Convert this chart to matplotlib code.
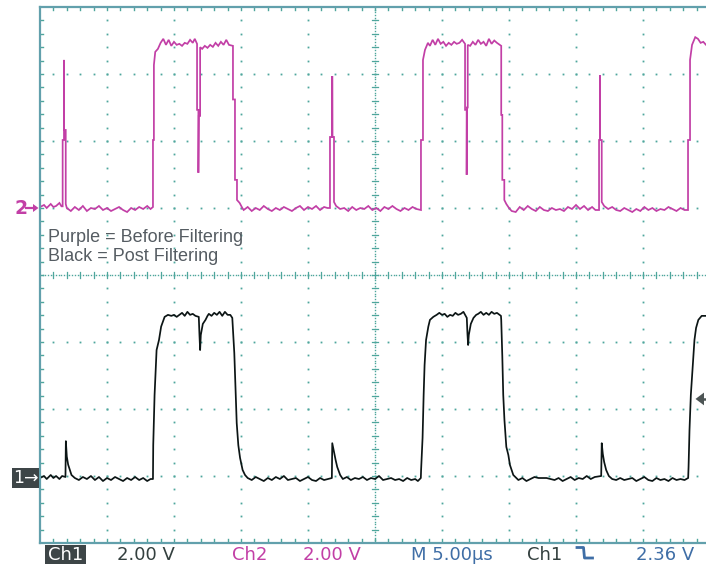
import matplotlib
matplotlib.use('Agg')
import matplotlib.pyplot as plt
import numpy as np
from matplotlib.patches import Rectangle, Polygon
from matplotlib.lines import Line2D
from matplotlib.transforms import blended_transform_factory

# ---------------- scope settings ----------------
volts_per_div = 2.0
us_per_div = 5.0
n_xdiv, n_ydiv = 10, 8
ch2_offset_div = 1.0
ch1_offset_div = -3.03
trigger_level_v = 2.36

legend_lines = ["Purple = Before Filtering", "Black = Post Filtering"]
status_texts = ["Ch1", "2.00 V", "Ch2", "2.00 V", "M 5.00\u00b5s", "Ch1", "2.36 V"]

# ---------------- waveform samples (time in us, volts) ----------------
ch2_samples = [
    (0.0, 0.03), (0.3, 0.09), (0.5, 0.0), (0.8, 0.12), (1.0, 0.03), (1.2, 0.06), (1.45, 0.15), (1.6, 0.05), (1.69, 0.05),
    (1.69, 2.03), (1.79, 2.03), (1.79, 4.42), (1.80, 2.33), (1.92, 2.33), (1.92, 0.12),
    (2.0, 0.0), (2.3, -0.09), (2.6, 0.03), (2.9, -0.06), (3.2, 0.06), (3.5, -0.09), (3.8, 0.0), (4.1, -0.03),
    (4.4, 0.06), (4.7, -0.06), (5.0, 0.0), (5.3, -0.09), (5.6, -0.03), (5.9, 0.03), (6.2, -0.06), (6.5, -0.12),
    (6.8, 0.0), (7.1, -0.06), (7.4, 0.03), (7.7, -0.03), (8.0, 0.06), (8.25, -0.03), (8.43, 0.03),
    (8.43, 2.03), (8.5, 2.03), (8.5, 4.27), (8.6, 4.66), (8.8, 4.75), (9.0, 4.93),
    (9.2, 5.05), (9.4, 4.87), (9.6, 5.02), (9.8, 4.84), (10.0, 4.96), (10.2, 4.87), (10.4, 4.9), (10.6, 4.84),
    (10.8, 4.93), (11.0, 4.9), (11.2, 5.02), (11.4, 4.93), (11.55, 5.05), (11.72, 4.9),
    (11.72, 2.93), (11.82, 2.93), (11.82, 1.05), (11.85, 2.75), (11.95, 2.75), (11.95, 4.8),
    (12.1, 4.75), (12.3, 4.84), (12.5, 4.78), (12.7, 4.87), (12.9, 4.81), (13.1, 4.93), (13.3, 4.84), (13.5, 4.96),
    (13.7, 4.87), (13.9, 5.02), (14.1, 4.87), (14.4, 4.84),
    (14.4, 3.24), (14.55, 3.24), (14.55, 0.84), (14.7, 0.84), (14.7, 0.24), (14.9, 0.15), (15.1, 0.0),
    (15.2, -0.06), (15.5, 0.03), (15.8, -0.09), (16.1, 0.0), (16.4, -0.06), (16.7, 0.06), (17.0, -0.03), (17.3, -0.09),
    (17.6, 0.0), (17.9, -0.06), (18.2, 0.03), (18.5, -0.03), (18.8, -0.09), (19.1, 0.0), (19.4, 0.06), (19.7, -0.06),
    (20.0, 0.03), (20.3, -0.03), (20.6, 0.06), (20.9, -0.06), (21.2, 0.03), (21.45, 0.0), (21.64, 0.0),
    (21.64, 2.12), (21.81, 2.12), (21.81, 3.94), (21.82, 2.12), (21.94, 2.12), (21.94, 0.18),
    (22.1, 0.06), (22.4, -0.03), (22.7, 0.0), (23.0, -0.09), (23.3, 0.03), (23.6, -0.06), (23.9, 0.0), (24.2, -0.03),
    (24.5, 0.06), (24.8, -0.06), (25.1, 0.0), (25.4, -0.09), (25.7, 0.03), (26.0, -0.03), (26.3, 0.06), (26.6, -0.03),
    (26.9, -0.09), (27.2, 0.0), (27.5, -0.06), (27.8, 0.03), (28.1, -0.03), (28.43, -0.06),
    (28.43, 2.03), (28.58, 2.03), (28.58, 4.42), (28.73, 4.72), (28.95, 4.93),
    (29.1, 4.84), (29.3, 5.02), (29.5, 4.87), (29.7, 5.05), (29.9, 4.9), (30.1, 4.96), (30.3, 4.84), (30.5, 4.93),
    (30.7, 4.87), (30.9, 4.96), (31.1, 4.9), (31.3, 4.93), (31.5, 5.02), (31.72, 4.9),
    (31.72, 2.93), (31.84, 2.93), (31.84, 0.99), (31.86, 3.0), (31.92, 3.0), (31.92, 4.87),
    (32.1, 4.84), (32.3, 4.96), (32.5, 4.87), (32.7, 5.02), (32.9, 4.9), (33.1, 4.96), (33.3, 4.84), (33.5, 5.05),
    (33.7, 4.9), (33.9, 5.0), (34.1, 4.93), (34.42, 4.84),
    (34.42, 2.78), (34.5, 2.78), (34.5, 0.84), (34.65, 0.84), (34.65, 0.24), (34.8, 0.12), (35.0, 0.0),
    (35.2, -0.09), (35.5, -0.12), (35.8, 0.03), (36.1, -0.06), (36.4, 0.06), (36.7, -0.03), (37.0, -0.09), (37.3, 0.03),
    (37.6, -0.06), (37.9, -0.09), (38.2, 0.0), (38.5, -0.06), (38.8, -0.03), (39.1, -0.09), (39.4, 0.03), (39.7, -0.03),
    (40.0, 0.09), (40.3, -0.03), (40.6, 0.06), (40.9, -0.06), (41.2, 0.03), (41.45, -0.06), (41.72, -0.06),
    (41.72, 2.03), (41.79, 2.03), (41.79, 3.97), (41.8, 2.03), (41.92, 2.03), (41.92, 0.18),
    (42.1, 0.06), (42.4, -0.03), (42.7, 0.03), (43.0, -0.06), (43.3, -0.09), (43.6, 0.0), (43.9, -0.06), (44.2, -0.12),
    (44.5, -0.03), (44.8, -0.09), (45.1, 0.03), (45.4, -0.06), (45.7, 0.0), (46.0, -0.09), (46.3, -0.03), (46.6, -0.06),
    (46.9, 0.03), (47.2, -0.03), (47.5, -0.09), (47.8, 0.0), (48.1, -0.06), (48.36, -0.06),
    (48.36, 2.03), (48.51, 2.03), (48.51, 4.42), (48.66, 4.87), (48.9, 5.1), (49.1, 5.05), (49.3, 4.93), (49.5, 4.96),
    (49.7, 4.87), (50.0, 4.9),
]

ch1_samples = [
    (0.0, 0.0), (0.3, 0.06), (0.5, -0.03), (0.8, 0.09), (1.0, 0.0), (1.2, 0.06), (1.45, -0.03), (1.65, 0.06), (1.9, 0.03),
    (1.93, 1.1), (2.0, 0.64), (2.1, 0.4), (2.35, 0.09), (2.6, 0.0),
    (2.9, -0.06), (3.2, 0.03), (3.5, -0.03), (3.8, 0.06), (4.1, -0.06), (4.4, 0.03), (4.7, -0.09), (5.0, 0.0),
    (5.3, -0.06), (5.6, 0.03), (5.9, -0.03), (6.2, -0.09), (6.5, 0.0), (6.8, -0.06), (7.1, 0.03), (7.4, -0.06),
    (7.7, 0.0), (8.0, -0.09), (8.25, -0.03), (8.43, -0.03),
    (8.45, 0.98), (8.55, 2.48), (8.7, 3.82), (8.88, 4.12), (9.04, 4.52), (9.3, 4.81), (9.55, 4.87),
    (9.8, 4.84), (10.0, 4.87), (10.2, 4.81), (10.4, 4.87), (10.6, 4.93), (10.8, 4.84), (11.0, 4.96), (11.2, 4.87),
    (11.4, 4.9), (11.6, 4.84), (11.85, 4.81),
    (11.9, 4.27), (11.95, 3.82), (12.0, 4.27), (12.15, 4.6), (12.35, 4.72), (12.5, 4.84),
    (12.6, 4.9), (12.8, 4.84), (13.0, 4.93), (13.2, 4.87), (13.4, 4.96), (13.6, 4.84), (13.8, 4.96), (14.0, 4.87),
    (14.2, 4.87), (14.35, 4.78),
    (14.4, 4.42), (14.5, 3.73), (14.6, 2.54), (14.68, 1.64), (14.8, 0.98), (14.93, 0.6), (15.12, 0.24), (15.3, 0.09), (15.5, 0.0),
    (15.8, -0.06), (16.1, 0.03), (16.4, -0.03), (16.7, -0.09), (17.0, 0.0), (17.3, -0.06), (17.6, 0.03), (17.9, -0.03),
    (18.2, 0.06), (18.5, -0.06), (18.8, -0.03), (19.1, 0.0), (19.4, -0.09), (19.7, -0.03), (20.0, 0.03), (20.3, -0.06),
    (20.6, -0.09), (20.9, 0.0), (21.2, -0.06), (21.5, -0.03), (21.78, 0.0),
    (21.81, 1.04), (21.94, 0.78), (22.06, 0.54), (22.18, 0.33), (22.4, 0.09), (22.6, -0.03),
    (22.9, 0.03), (23.2, -0.06), (23.5, 0.0), (23.8, -0.03), (24.1, 0.03), (24.4, -0.06), (24.7, 0.0), (25.0, -0.03),
    (25.3, 0.06), (25.6, -0.06), (25.9, -0.03), (26.2, 0.0), (26.5, -0.06), (26.8, -0.03), (27.1, -0.09), (27.4, 0.0),
    (27.7, -0.06), (28.0, -0.03), (28.2, -0.09), (28.42, 0.0),
    (28.44, 0.24), (28.55, 1.2), (28.63, 2.48), (28.7, 3.37), (28.81, 4.12), (28.98, 4.52), (29.1, 4.72), (29.35, 4.81),
    (29.6, 4.87), (29.8, 4.93), (30.0, 4.87), (30.2, 4.9), (30.4, 4.81), (30.6, 4.87), (30.8, 4.84), (31.0, 4.93),
    (31.2, 4.87), (31.4, 4.9), (31.6, 4.96), (31.85, 4.78),
    (31.9, 4.3), (31.95, 3.97), (32.0, 4.27), (32.15, 4.6), (32.35, 4.78), (32.55, 4.87),
    (32.7, 4.9), (32.9, 4.96), (33.1, 4.87), (33.3, 4.93), (33.5, 4.87), (33.7, 4.96), (33.9, 4.9), (34.1, 4.93),
    (34.3, 4.87), (34.4, 4.84),
    (34.42, 4.72), (34.5, 3.64), (34.57, 2.48), (34.66, 1.73), (34.8, 0.93), (34.95, 0.69), (35.07, 0.39), (35.32, 0.09), (35.7, -0.06),
    (36.0, 0.0), (36.3, -0.09), (36.6, -0.03), (36.9, 0.03), (37.2, 0.0), (37.5, 0.0), (37.8, 0.0), (38.1, -0.03),
    (38.4, -0.06), (38.7, 0.0), (39.0, -0.09), (39.3, -0.03), (39.6, 0.03), (39.9, -0.06), (40.2, 0.0), (40.5, -0.03),
    (40.8, 0.06), (41.1, -0.03), (41.4, 0.03), (41.88, 0.06),
    (41.92, 1.04), (42.0, 0.72), (42.1, 0.48), (42.25, 0.24), (42.45, 0.06), (42.7, -0.03),
    (43.0, -0.06), (43.3, 0.0), (43.6, -0.06), (43.9, -0.03), (44.2, 0.0), (44.5, -0.09), (44.8, -0.03), (45.1, 0.03),
    (45.4, -0.06), (45.7, -0.09), (46.0, 0.0), (46.3, -0.06), (46.6, -0.03), (46.9, -0.09), (47.2, 0.0), (47.5, -0.06),
    (47.8, -0.03), (48.1, -0.06), (48.37, 0.0),
    (48.4, 0.33), (48.47, 1.43), (48.57, 2.48), (48.72, 3.37), (48.84, 4.12), (48.96, 4.48), (49.13, 4.72), (49.38, 4.84),
    (49.7, 4.84), (50.0, 4.87),
]

# ---------------- colours ----------------
PURPLE = '#c23fa6'
TRACE_BLACK = '#0c1515'
GRID = '#4ea69c'
BORDER = '#62a0ac'
LEGEND_GRAY = '#555c62'
STATUS_DARK = '#34403f'
BLUE = '#3f6ea6'
BOX = '#3d4547'

W, H = 706, 568
fig = plt.figure(figsize=(W / 100, H / 100), dpi=100)
fig.patch.set_facecolor('white')

def fx(px):
    return px / W

def fy(py):
    return 1 - py / H

# graticule: 670 x 536 px starting at (40, 7), right part beyond image
ax = fig.add_axes([fx(40), fy(543), 670 / W, 536 / H])
xmax = n_xdiv * us_per_div
ax.set_xlim(0, xmax)
ax.set_ylim(-n_ydiv / 2, n_ydiv / 2)
ax.set_xticks([])
ax.set_yticks([])
for s in ['left', 'top', 'bottom']:
    ax.spines[s].set_color(BORDER)
    ax.spines[s].set_linewidth(1.6)
ax.spines['right'].set_visible(False)

sub = 0.2  # 1/5 division
ys_minor = np.arange(-n_ydiv / 2 + sub, n_ydiv / 2 - sub / 2, sub)
xs_minor = np.arange(sub, n_xdiv - sub / 2, sub) * us_per_div
dot_kw = dict(ls='none', marker='s', ms=1.3, mew=0, color=GRID)

# major grid lines as dots
for k in range(1, n_xdiv):
    if k == n_xdiv // 2:
        continue
    ax.plot(np.full_like(ys_minor, k * us_per_div), ys_minor, **dot_kw)
for k in range(-n_ydiv // 2 + 1, n_ydiv // 2):
    if k == 0:
        continue
    ax.plot(xs_minor, np.full_like(xs_minor, k), **dot_kw)

# centre lines: dense dots + small cross ticks
yc = np.arange(-n_ydiv / 2, n_ydiv / 2 + 1e-9, 0.04)
xc = np.arange(0, n_xdiv + 1e-9, 0.04) * us_per_div
ax.plot(np.full_like(yc, xmax / 2), yc, ls='none', marker='s', ms=1.0, mew=0, color=GRID)
ax.plot(xc, np.zeros_like(xc), ls='none', marker='s', ms=1.0, mew=0, color=GRID)
for yy in ys_minor:
    ax.plot([xmax / 2 - 0.26, xmax / 2 + 0.26], [yy, yy], color=GRID, lw=0.9)
for xx in xs_minor:
    ax.plot([xx, xx], [-0.052, 0.052], color=GRID, lw=0.9)

# border ticks
for xx in xs_minor:
    ax.plot([xx, xx], [n_ydiv / 2, n_ydiv / 2 - 0.05], color=GRID, lw=1.0)
    ax.plot([xx, xx], [-n_ydiv / 2, -n_ydiv / 2 + 0.06], color=GRID, lw=1.0)
for yy in ys_minor:
    ax.plot([0, 0.25], [yy, yy], color=GRID, lw=1.0)

# traces
ch2_t = np.array([p[0] for p in ch2_samples])
ch2_v = np.array([p[1] for p in ch2_samples])
ch1_t = np.array([p[0] for p in ch1_samples])
ch1_v = np.array([p[1] for p in ch1_samples])
ax.plot(ch2_t, ch2_offset_div + ch2_v / volts_per_div, color=PURPLE, lw=1.25, solid_joinstyle='miter')
ax.plot(ch1_t, ch1_offset_div + ch1_v / volts_per_div, color=TRACE_BLACK, lw=1.25)

# legend text
fig.text(fx(48), fy(242), legend_lines[0], fontsize=13, color=LEGEND_GRAY,
         family='Liberation Sans', va='baseline', ha='left')
fig.text(fx(48), fy(261), legend_lines[1], fontsize=13, color=LEGEND_GRAY,
         family='Liberation Sans', va='baseline', ha='left')

# ground markers (x in figure px, y in data)
bt = blended_transform_factory(fig.transFigure, ax.transData)
fig.text(fx(14), ch2_offset_div, "2", transform=bt, fontsize=13.5, fontweight='bold',
         color=PURPLE, va='center', ha='left', family='DejaVu Sans')
fig.add_artist(Line2D([fx(26), fx(34)], [ch2_offset_div, ch2_offset_div], transform=bt,
                      color=PURPLE, lw=1.6))
fig.add_artist(Polygon([(fx(38.5), ch2_offset_div), (fx(33), ch2_offset_div + 0.06),
                        (fx(33), ch2_offset_div - 0.06)], closed=True, transform=bt,
                       facecolor=PURPLE, edgecolor='none'))

box1 = Rectangle((fx(12), ch1_offset_div - 0.145), 27 / W, 0.29, transform=bt,
                 facecolor=BOX, edgecolor='none')
fig.add_artist(box1)
fig.text(fx(25.5), ch1_offset_div, "1\u2192", transform=bt, fontsize=12.5,
         color='white', va='center', ha='center', family='DejaVu Sans')

# trigger level arrow
trig_y = ch1_offset_div + trigger_level_v / volts_per_div
tri = Polygon([(fx(695.5), trig_y), (fx(704), trig_y + 0.095), (fx(704), trig_y - 0.095)],
              closed=True, transform=bt, facecolor='#4d5555', edgecolor='none')
fig.add_artist(tri)
fig.add_artist(Line2D([fx(700), fx(706)], [trig_y, trig_y], transform=bt, color='#4d5555', lw=1.8))

# status line
fs = 13
base = fy(560)
sw = 'normal'
fig.add_artist(Rectangle((fx(45), fy(563.5)), 41 / W, 18.5 / H, transform=fig.transFigure,
                         facecolor=BOX, edgecolor='none'))
fig.text(fx(65.5), base, status_texts[0], fontsize=fs, fontweight=sw, color='white', ha='center', va='baseline', family='DejaVu Sans')
fig.text(fx(117), base, status_texts[1], fontsize=fs, fontweight=sw, color=STATUS_DARK, ha='left', va='baseline', family='DejaVu Sans')
fig.text(fx(232), base, status_texts[2], fontsize=fs, fontweight=sw, color=PURPLE, ha='left', va='baseline', family='DejaVu Sans')
fig.text(fx(303), base, status_texts[3], fontsize=fs, fontweight=sw, color=PURPLE, ha='left', va='baseline', family='DejaVu Sans')
fig.text(fx(411), base, status_texts[4], fontsize=fs, fontweight=sw, color=BLUE, ha='left', va='baseline', family='DejaVu Sans')
fig.text(fx(527), base, status_texts[5], fontsize=fs, fontweight=sw, color=STATUS_DARK, ha='left', va='baseline', family='DejaVu Sans')
fig.text(fx(636), base, status_texts[6], fontsize=fs, fontweight=sw, color=BLUE, ha='left', va='baseline', family='DejaVu Sans')
# falling-edge trigger slope symbol
fig.add_artist(Line2D([fx(577), fx(583.5), fx(584.5), fx(592.5)],
                      [fy(547.5), fy(547.5), fy(558), fy(558)],
                      transform=fig.transFigure, color=BLUE, lw=2.0))

fig.savefig('out.png', dpi=100, facecolor='white')
